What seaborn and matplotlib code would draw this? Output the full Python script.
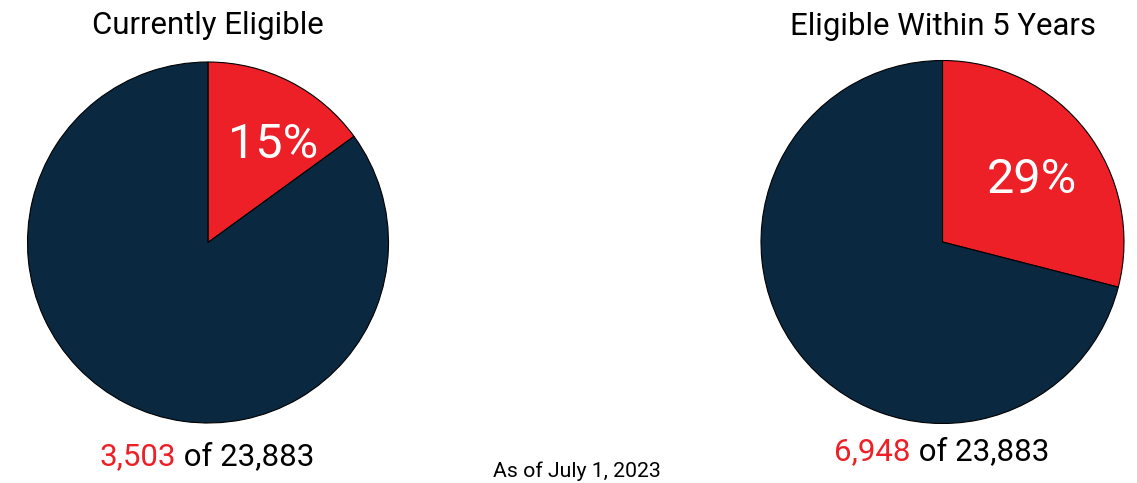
import matplotlib
matplotlib.use("Agg")
import matplotlib.pyplot as plt
import seaborn as sns

sns.set_theme(style="white")
plt.rcParams['font.family'] = ['Roboto', 'DejaVu Sans']

titles = ["Currently Eligible", "Eligible Within 5 Years"]
eligible = [3503, 6948]
total = [23883, 23883]
pct_values = [15, 29]
footnote = "As of July 1, 2023"

RED = "#ED2028"
NAVY = "#0B2841"

W, H = 1137, 483
fig = plt.figure(figsize=(W / 100, H / 100), dpi=100)

centers = [(208, 242.5), (942.5, 242)]
radii = [180.5, 181.5]
pct_pos = [(0.361, 0.542), (0.493, 0.339)]
title_base = [34, 35]
bottom_base = [465, 460]
split_x = [176, 911]

for i in range(2):
    cx, cy = centers[i]
    r = radii[i]
    ax = fig.add_axes([(cx - r) / W, (H - cy - r) / H, 2 * r / W, 2 * r / H])
    vals = [pct_values[i], 100 - pct_values[i]]
    ax.pie(vals, colors=[RED, NAVY], startangle=90, counterclock=False,
           radius=1.0, wedgeprops=dict(edgecolor="black", linewidth=0.8))
    ax.set_xlim(-1, 1)
    ax.set_ylim(-1, 1)
    ax.set_aspect("equal")
    ax.axis("off")
    ax.text(pct_pos[i][0], pct_pos[i][1], f"{pct_values[i]}%", color="white",
            fontsize=35, ha="center", va="center")
    # title
    fig.text(cx / W, (H - title_base[i]) / H, titles[i], fontsize=22.4,
             ha="center", va="baseline", color="black")
    # bottom label
    fig.text(split_x[i] / W, (H - bottom_base[i]) / H, f"{eligible[i]:,}",
             fontsize=22.5, ha="right", va="baseline", color=RED)
    fig.text(split_x[i] / W, (H - bottom_base[i]) / H, f" of {total[i]:,}",
             fontsize=22.5, ha="left", va="baseline", color="black")

fig.text(576.5 / W, (H - 477) / H, footnote, fontsize=15.3, ha="center",
         va="baseline", color="black")

fig.savefig("out.png", dpi=100, facecolor="white")
